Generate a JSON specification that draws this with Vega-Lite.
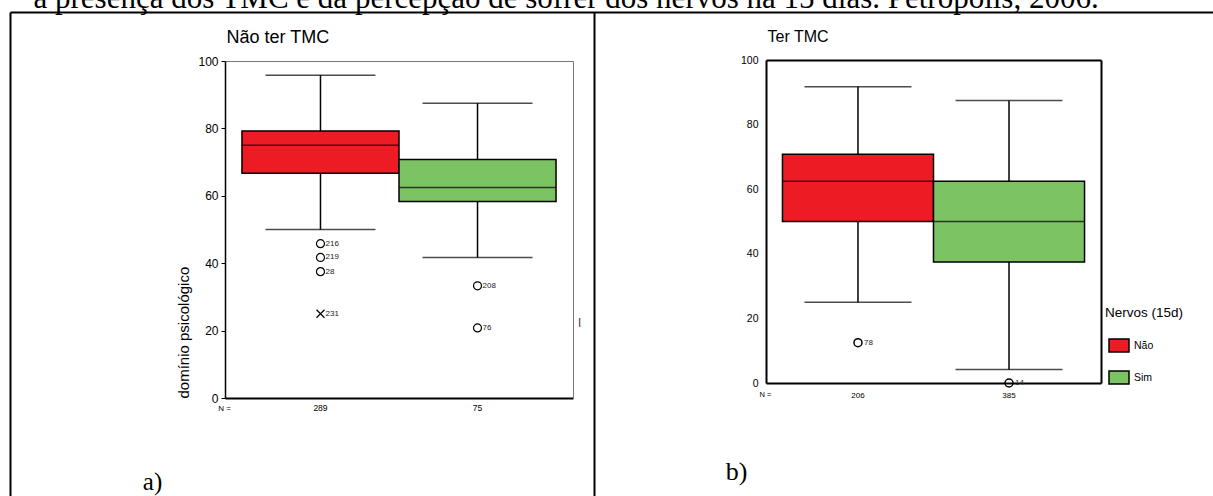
{
  "$schema": "https://vega.github.io/schema/vega-lite/v6.json",
  "autosize": "none",
  "width": 1213,
  "height": 496,
  "padding": 0,
  "background": "white",
  "config": {
    "view": {"stroke": null},
    "axis": {"grid": false, "labelFont": "Liberation Sans", "titleFont": "Liberation Sans", "labelColor": "#000", "titleColor": "#000", "titleFontWeight": "normal"},
    "text": {"font": "Liberation Sans"}
  },
  "datasets": {
    "caixasA": [
      {"n": "289", "nervos": "Não", "lower": 50.0, "q1": 66.7, "median": 75.0, "q3": 79.2, "upper": 95.8},
      {"n": "75", "nervos": "Sim", "lower": 41.7, "q1": 58.3, "median": 62.5, "q3": 70.8, "upper": 87.5}
    ],
    "outA": [
      {"n": "289", "valor": 45.8, "caso": "216", "tipo": "atípico"},
      {"n": "289", "valor": 41.7, "caso": "219", "tipo": "atípico"},
      {"n": "289", "valor": 37.5, "caso": "28", "tipo": "atípico"},
      {"n": "289", "valor": 25.0, "caso": "231", "tipo": "extremo"},
      {"n": "75", "valor": 33.3, "caso": "208", "tipo": "atípico"},
      {"n": "75", "valor": 20.8, "caso": "76", "tipo": "atípico"}
    ],
    "caixasB": [
      {"n": "206", "nervos": "Não", "lower": 25.0, "q1": 50.0, "median": 62.5, "q3": 70.8, "upper": 91.7},
      {"n": "385", "nervos": "Sim", "lower": 4.2, "q1": 37.5, "median": 50.0, "q3": 62.5, "upper": 87.5}
    ],
    "outB": [
      {"n": "206", "valor": 12.5, "caso": "78", "tipo": "atípico"},
      {"n": "385", "valor": 0.0, "caso": "14", "tipo": "atípico"}
    ]
  },
  "resolve": {"scale": {"x": "independent", "y": "independent"}, "axis": {"x": "independent", "y": "independent"}},
  "layer": [
    {
      "data": {"values": [{}]},
      "mark": {"type": "point", "opacity": 0, "size": 0},
      "encoding": {
        "x": {"datum": 0, "type": "quantitative", "scale": {"domain": [0, 1], "range": [10, 1500]},
          "axis": {"orient": "top", "offset": -12, "domainColor": "#000", "domainWidth": 2, "ticks": false, "labels": false,
            "title": "a presença dos TMC e da percepção de sofrer dos nervos na 15 dias. Petrópolis, 2006.",
            "titleFont": "Liberation Serif", "titleFontSize": 31, "titleX": 33, "titleY": -5, "titleAlign": "left", "titleBaseline": "alphabetic", "titleLimit": 3000}},
        "y": {"datum": 0, "type": "quantitative", "scale": {"domain": [0, 1], "range": [12, 700]},
          "axis": {"orient": "left", "offset": -10, "domainColor": "#000", "domainWidth": 2, "ticks": false, "labels": false,
            "title": "a)", "titleFont": "Liberation Serif", "titleFontSize": 25, "titleAngle": 0, "titleX": 142, "titleY": 489, "titleAlign": "center", "titleBaseline": "alphabetic"}}
      }
    },
    {
      "data": {"values": [{}]},
      "mark": {"type": "point", "opacity": 0, "size": 0},
      "encoding": {
        "y": {"datum": 0, "type": "quantitative", "scale": {"domain": [0, 1], "range": [12, 700]},
          "axis": {"orient": "left", "offset": -594, "domainColor": "#000", "domainWidth": 2, "ticks": false, "labels": false,
            "title": "b)", "titleFont": "Liberation Serif", "titleFontSize": 26, "titleAngle": 0, "titleX": 142, "titleY": 479, "titleAlign": "center", "titleBaseline": "alphabetic"}}
      }
    },
    {
      "resolve": {"axis": {"x": "independent", "y": "independent"}},
      "layer": [
        {
          "data": {"name": "caixasA"},
          "mark": {"type": "rule", "color": "#000", "strokeWidth": 1.5},
          "encoding": {
            "x": {"field": "n", "type": "nominal", "scale": {"range": [225, 573], "paddingInner": 0, "paddingOuter": 0.108},
              "axis": {"orient": "bottom", "offset": -98, "domainColor": "#000", "domainWidth": 2, "ticks": false, "labelFontSize": 8.5, "labelPadding": 5, "labelAngle": 0,
                "title": "N =", "titleFontSize": 8, "titleX": 224, "titleY": 10, "titleAlign": "center", "titleBaseline": "middle"}},
            "y": {"field": "lower", "type": "quantitative", "scale": {"domain": [0, 100], "range": [398, 61], "nice": false},
              "axis": {"orient": "left", "offset": -225, "values": [0, 20, 40, 60, 80, 100], "domainColor": "#000", "domainWidth": 1.5, "tickColor": "#000", "tickSize": 4, "labelFontSize": 12, "labelPadding": 3,
                "title": "domínio psicológico", "titleFontSize": 15, "titleAngle": 270, "titleX": -42, "titleY": 398, "titleAlign": "left", "titleBaseline": "middle"}},
            "y2": {"field": "upper"}
          }
        },
        {
          "data": {"name": "caixasA"},
          "mark": {"type": "tick", "color": "#000", "thickness": 1.5, "size": 110},
          "encoding": {
            "x": {"field": "n", "type": "nominal", "axis": null},
            "y": {"field": "lower", "type": "quantitative", "axis": null}
          }
        },
        {
          "data": {"name": "caixasA"},
          "mark": {"type": "tick", "color": "#000", "thickness": 1.5, "size": 110},
          "encoding": {
            "x": {"field": "n", "type": "nominal",
              "axis": {"orient": "top", "offset": -61, "domainColor": "#777", "domainWidth": 1, "ticks": false, "labels": false,
                "title": "Não ter TMC", "titleFontSize": 18, "titleX": 226, "titleY": -24, "titleAlign": "left", "titleBaseline": "middle"}},
            "y": {"field": "upper", "type": "quantitative",
              "axis": {"orient": "right", "offset": -640, "domainColor": "#777", "domainWidth": 1, "ticks": false, "labels": false,
                "title": "l", "titleFontSize": 12, "titleAngle": 0, "titleX": 6, "titleY": 322, "titleAlign": "center", "titleBaseline": "middle", "titleColor": "#333"}}
          }
        },
        {
          "data": {"name": "caixasA"},
          "mark": {"type": "rect", "stroke": "#000", "strokeWidth": 1.5},
          "encoding": {
            "x": {"field": "n", "type": "nominal", "axis": null},
            "y": {"field": "q1", "type": "quantitative", "axis": null},
            "y2": {"field": "q3"},
            "color": {"field": "nervos", "type": "nominal", "scale": {"domain": ["Não", "Sim"], "range": ["#ed1c24", "#7cc463"]},
              "legend": {"orient": "none", "legendX": 1105, "legendY": 306, "title": "Nervos (15d)", "titleFont": "Liberation Sans", "titleFontSize": 13.5, "titleFontWeight": "normal", "titleColor": "#000", "titlePadding": 15,
                "labelFont": "Liberation Sans", "labelFontSize": 10.5, "labelColor": "#000", "labelOffset": 4, "symbolType": "M-1,-0.65H1V0.65H-1Z", "symbolSize": 400, "symbolStrokeColor": "#000", "symbolStrokeWidth": 1.5, "symbolOpacity": 1, "rowPadding": 11, "padding": 0, "symbolOffset": 3}}
          }
        },
        {
          "data": {"name": "caixasA"},
          "mark": {"type": "tick", "color": "#000", "thickness": 1.5, "size": 157},
          "encoding": {
            "x": {"field": "n", "type": "nominal", "axis": null},
            "y": {"field": "median", "type": "quantitative", "axis": null}
          }
        },
        {
          "data": {"name": "outA"},
          "mark": {"type": "point", "filled": false, "color": "#000", "strokeWidth": 1.2, "size": 64, "opacity": 1},
          "encoding": {
            "x": {"field": "n", "type": "nominal", "axis": null},
            "y": {"field": "valor", "type": "quantitative", "axis": null},
            "shape": {"field": "tipo", "type": "nominal", "scale": {"domain": ["atípico", "extremo"], "range": ["circle", "M-1,-1L1,1M1,-1L-1,1"]}, "legend": null}
          }
        },
        {
          "data": {"name": "outA"},
          "mark": {"type": "text", "align": "left", "baseline": "middle", "dx": 5, "fontSize": 8, "color": "#222"},
          "encoding": {
            "x": {"field": "n", "type": "nominal", "axis": null},
            "y": {"field": "valor", "type": "quantitative", "axis": null},
            "text": {"field": "caso"}
          }
        }
      ]
    },
    {
      "resolve": {"axis": {"x": "independent", "y": "independent"}},
      "layer": [
        {
          "data": {"name": "caixasB"},
          "mark": {"type": "rule", "color": "#000", "strokeWidth": 1.5},
          "encoding": {
            "x": {"field": "n", "type": "nominal", "scale": {"range": [766, 1101], "paddingInner": 0, "paddingOuter": 0.109},
              "axis": {"orient": "bottom", "offset": -113, "domainColor": "#000", "domainWidth": 2, "ticks": false, "labelFontSize": 8, "labelPadding": 8, "labelAngle": 0,
                "title": "N =", "titleFontSize": 7.5, "titleX": 765, "titleY": 11, "titleAlign": "center", "titleBaseline": "middle"}},
            "y": {"field": "lower", "type": "quantitative", "scale": {"domain": [0, 100], "range": [383, 60], "nice": false},
              "axis": {"orient": "left", "offset": -766, "values": [0, 20, 40, 60, 80, 100], "domainColor": "#000", "domainWidth": 2, "ticks": false, "labelFontSize": 10.5, "labelPadding": 8, "title": null}},
            "y2": {"field": "upper"}
          }
        },
        {
          "data": {"name": "caixasB"},
          "mark": {"type": "tick", "color": "#000", "thickness": 1.5, "size": 107},
          "encoding": {
            "x": {"field": "n", "type": "nominal", "axis": null},
            "y": {"field": "lower", "type": "quantitative", "axis": null}
          }
        },
        {
          "data": {"name": "caixasB"},
          "mark": {"type": "tick", "color": "#000", "thickness": 1.5, "size": 107},
          "encoding": {
            "x": {"field": "n", "type": "nominal",
              "axis": {"orient": "top", "offset": -60, "domainColor": "#000", "domainWidth": 2, "ticks": false, "labels": false,
                "title": "Ter TMC", "titleFontSize": 16, "titleX": 767, "titleY": -24, "titleAlign": "left", "titleBaseline": "middle"}},
            "y": {"field": "upper", "type": "quantitative",
              "axis": {"orient": "right", "offset": -112, "domainColor": "#000", "domainWidth": 2, "ticks": false, "labels": false, "title": null}}
          }
        },
        {
          "data": {"name": "caixasB"},
          "mark": {"type": "rect", "stroke": "#000", "strokeWidth": 1.5},
          "encoding": {
            "x": {"field": "n", "type": "nominal", "axis": null},
            "y": {"field": "q1", "type": "quantitative", "axis": null},
            "y2": {"field": "q3"},
            "color": {"field": "nervos", "type": "nominal", "scale": {"domain": ["Não", "Sim"], "range": ["#ed1c24", "#7cc463"]},
              "legend": {"orient": "none", "legendX": 1105, "legendY": 306, "title": "Nervos (15d)", "titleFont": "Liberation Sans", "titleFontSize": 13.5, "titleFontWeight": "normal", "titleColor": "#000", "titlePadding": 15,
                "labelFont": "Liberation Sans", "labelFontSize": 10.5, "labelColor": "#000", "labelOffset": 4, "symbolType": "M-1,-0.65H1V0.65H-1Z", "symbolSize": 400, "symbolStrokeColor": "#000", "symbolStrokeWidth": 1.5, "symbolOpacity": 1, "rowPadding": 11, "padding": 0, "symbolOffset": 3}}
          }
        },
        {
          "data": {"name": "caixasB"},
          "mark": {"type": "tick", "color": "#000", "thickness": 1.5, "size": 151},
          "encoding": {
            "x": {"field": "n", "type": "nominal", "axis": null},
            "y": {"field": "median", "type": "quantitative", "axis": null}
          }
        },
        {
          "data": {"name": "outB"},
          "mark": {"type": "point", "filled": false, "color": "#000", "strokeWidth": 1.5, "size": 64, "opacity": 1},
          "encoding": {
            "x": {"field": "n", "type": "nominal", "axis": null},
            "y": {"field": "valor", "type": "quantitative", "axis": null},
            "shape": {"field": "tipo", "type": "nominal", "scale": {"domain": ["atípico", "extremo"], "range": ["circle", "M-1,-1L1,1M1,-1L-1,1"]}, "legend": null}
          }
        },
        {
          "data": {"name": "outB"},
          "mark": {"type": "text", "align": "left", "baseline": "middle", "dx": 6, "fontSize": 8, "color": "#222"},
          "encoding": {
            "x": {"field": "n", "type": "nominal", "axis": null},
            "y": {"field": "valor", "type": "quantitative", "axis": null},
            "text": {"field": "caso"}
          }
        }
      ]
    }
  ]
}
